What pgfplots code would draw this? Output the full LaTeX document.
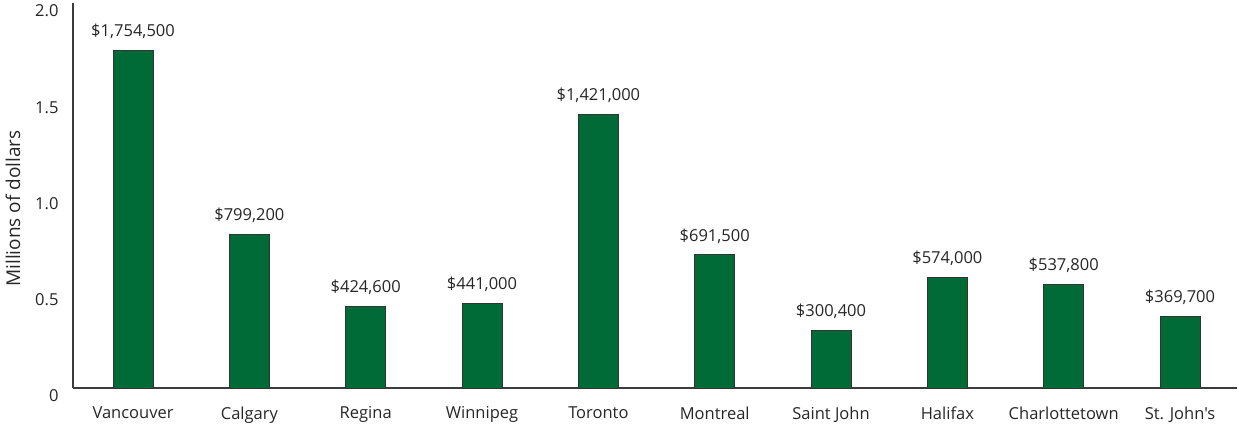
\documentclass[border=0pt]{standalone}
\usepackage{pgfplots}
\pgfplotsset{compat=1.18}
\usepackage{fontspec}
\setmainfont{Open Sans}[Ligatures=TeXOff]
\definecolor{bargreen}{RGB}{0,107,54}
\definecolor{axisgray}{RGB}{60,60,60}
\begin{document}
\begin{tikzpicture}
\useasboundingbox (-73pt,-37pt) rectangle (1166pt,388pt);
\begin{axis}[
  scale only axis,
  width=1164pt, height=385pt,
  xmin=-0.516, xmax=9.49,
  ymin=0, ymax=2,
  axis lines=left,
  axis line style={-, axisgray, line width=1.2pt},
  xtick={0,...,9},
  xticklabels={Vancouver,Calgary,Regina,Winnipeg,Toronto,Montreal,Saint John,Halifax,Charlottetown,St. John's},
  ytick={0,0.5,1,1.5,2},
  yticklabels={0,0.5,1.0,1.5,2.0},
  major tick length=0pt,
  tick style={draw=none},
  /pgf/number format/assume math mode=true,
  ticklabel style={font=\fontsize{16.5pt}{19pt}\selectfont, text=black!85},
  yticklabel style={yshift=-8pt, xshift=-11pt},
  xticklabel style={yshift=-15pt},
  ylabel={Millions of dollars},
  ylabel style={at={(axis description cs:0,0.5)}, anchor=center, yshift=60pt, xshift=-13pt, font=\fontsize{19pt}{22pt}\selectfont, text=black!85},
  ybar, bar width=40pt,
  nodes near coords,
  point meta=explicit symbolic,
  every node near coord/.append style={font=\fontsize{16.5pt}{19pt}\selectfont, text=black!85, anchor=south, yshift=8pt},
  clip=false,
]
\addplot[fill=bargreen, draw=black!80, line width=0.8pt] table[x=x, y=y, meta=lab] {
x y lab
0 1.7545 \$1,754,500
1 0.7992 \$799,200
2 0.4246 \$424,600
3 0.4410 \$441,000
4 1.4210 \$1,421,000
5 0.6915 \$691,500
6 0.3004 \$300,400
7 0.5740 \$574,000
8 0.5378 \$537,800
9 0.3697 \$369,700
};
\end{axis}
\end{tikzpicture}
\end{document}
